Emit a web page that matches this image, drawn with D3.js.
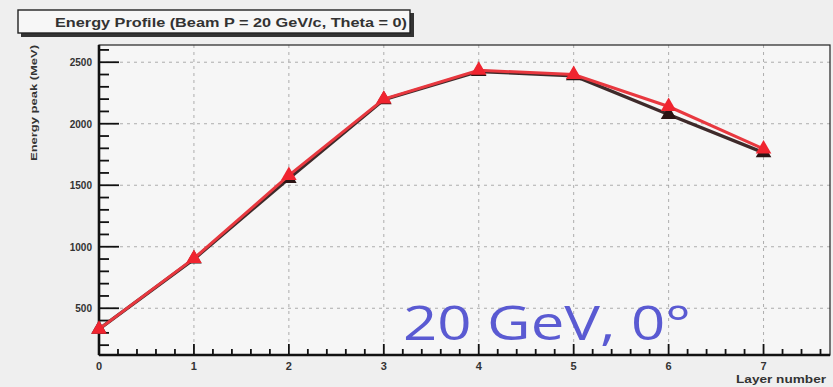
<!DOCTYPE html>
<html>
<head>
<meta charset="utf-8">
<script src="https://cdn.jsdelivr.net/npm/d3@7"></script>
<style>
  html, body { margin: 0; padding: 0; background: #efefef; }
  svg { display: block; }
  text { font-family: "Liberation Sans", Arial, sans-serif; }
  text.note { font-family: "Open Sans", "Noto Sans", sans-serif; }
</style>
</head>
<body>
<svg id="chart" width="833" height="387"></svg>
<script>
// Layer-by-layer energy peak, 20 GeV/c beam at normal incidence
const layers = [0, 1, 2, 3, 4, 5, 6, 7];
const peakA = [330, 900, 1555, 2195, 2425, 2390, 2075, 1765];   // dark series
const peakB = [330, 905, 1580, 2200, 2435, 2400, 2140, 1795];   // red series
const xTicks = [0, 1, 2, 3, 4, 5, 6, 7];
const yTicks = [500, 1000, 1500, 2000, 2500];
const titleText = "Energy Profile (Beam P = 20 GeV/c, Theta = 0)";
const yLabel = "Energy peak (MeV)";
const xLabel = "Layer number";
const noteText = "20 GeV, 0°";

const svg = d3.select("#chart");
const plotL = 99, plotR = 830, plotT = 45, plotB = 355;

const x = d3.scaleLinear().domain([0, 7.7]).range([plotL, plotR]);
const y = d3.scaleLinear().domain([120, 2640]).range([plotB, plotT]);

// plot frame
svg.append("rect")
  .attr("x", plotL).attr("y", plotT)
  .attr("width", plotR - plotL).attr("height", plotB - plotT)
  .attr("fill", "#f6f6f6");

// dashed grid
const grid = svg.append("g").attr("stroke", "#9a9a9a").attr("stroke-width", 0.8)
  .attr("stroke-dasharray", "3,4");
grid.selectAll("line.gx").data(xTicks.slice(1)).join("line")
  .attr("x1", d => x(d)).attr("x2", d => x(d))
  .attr("y1", plotT).attr("y2", plotB);
grid.selectAll("line.gy").data(yTicks).join("line")
  .attr("x1", plotL).attr("x2", plotR)
  .attr("y1", d => y(d)).attr("y2", d => y(d));

// axes with inward ticks
const xMinor = d3.range(0, 7.7, 0.2);
const yMinor = d3.range(200, 2640, 100);
const axes = svg.append("g").attr("stroke", "#111");
axes.selectAll("line.xmin").data(xMinor).join("line")
  .attr("x1", d => x(d)).attr("x2", d => x(d))
  .attr("y1", plotB).attr("y2", d => plotB - (Math.abs(d - Math.round(d)) < 1e-6 ? 11 : 6))
  .attr("stroke-width", 1.8);
axes.selectAll("line.ymin").data(yMinor).join("line")
  .attr("y1", d => y(d)).attr("y2", d => y(d))
  .attr("x1", plotL).attr("x2", d => plotL + (d % 500 === 0 ? 20 : 10))
  .attr("stroke-width", 1.8);

svg.append("rect")
  .attr("x", plotL).attr("y", plotT)
  .attr("width", plotR - plotL).attr("height", plotB - plotT)
  .attr("fill", "none").attr("stroke", "#222").attr("stroke-width", 1.2);
svg.append("line").attr("x1", plotL).attr("x2", plotR).attr("y1", plotB).attr("y2", plotB)
  .attr("stroke", "#111").attr("stroke-width", 2.6);
svg.append("line").attr("x1", plotL).attr("x2", plotL).attr("y1", plotT).attr("y2", plotB)
  .attr("stroke", "#111").attr("stroke-width", 2.6);

// tick labels
svg.append("g").selectAll("text").data(yTicks).join("text")
  .attr("x", plotL - 7).attr("y", d => y(d) + 4)
  .attr("text-anchor", "end").attr("font-size", 10).attr("font-weight", "bold")
  .attr("fill", "#333").text(d => d);
svg.append("g").selectAll("text").data(xTicks).join("text")
  .attr("x", d => x(d)).attr("y", 370)
  .attr("text-anchor", "middle").attr("font-size", 11).attr("font-weight", "bold")
  .attr("fill", "#333").text(d => d);

// axis titles
svg.append("text").attr("transform", `translate(37, ${plotT}) rotate(-90)`)
  .attr("text-anchor", "end").attr("font-size", 9).attr("font-weight", "bold")
  .attr("textLength", 116).attr("lengthAdjust", "spacingAndGlyphs")
  .attr("fill", "#333").text(yLabel);
svg.append("text").attr("x", 736).attr("y", 383)
  .attr("font-size", 10).attr("font-weight", "bold")
  .attr("textLength", 90).attr("lengthAdjust", "spacingAndGlyphs")
  .attr("fill", "#333").text(xLabel);

// title box with shadow
svg.append("rect").attr("x", 21).attr("y", 13).attr("width", 393).attr("height", 24).attr("fill", "#333");
svg.append("rect").attr("x", 18).attr("y", 10).attr("width", 392).attr("height", 23)
  .attr("fill", "#f7f7f7").attr("stroke", "#222").attr("stroke-width", 1.4);
svg.append("text").attr("x", 55).attr("y", 27)
  .attr("font-size", 12).attr("font-weight", "bold")
  .attr("textLength", 352).attr("lengthAdjust", "spacingAndGlyphs")
  .attr("fill", "#333").text(titleText);

// series lines
const line = d3.line().x((d, i) => x(layers[i])).y(d => y(d));
const tri = d3.symbol().type(d3.symbolTriangle).size(105);
svg.append("path").datum(peakA).attr("d", line)
  .attr("fill", "none").attr("stroke", "#2a1414").attr("stroke-width", 3.4).attr("opacity", 0.9);
svg.append("g").selectAll("path").data(peakA).join("path")
  .attr("transform", (d, i) => `translate(${x(layers[i])},${y(d)})`)
  .attr("d", tri).attr("fill", "#2a1414");
svg.append("path").datum(peakB).attr("d", line)
  .attr("fill", "none").attr("stroke", "#e8383f").attr("stroke-width", 3);
svg.append("g").selectAll("path").data(peakB).join("path")
  .attr("transform", (d, i) => `translate(${x(layers[i])},${y(d)})`)
  .attr("d", tri).attr("fill", "#f0242f");

// annotation
svg.append("text").attr("class", "note").attr("x", 403).attr("y", 340)
  .attr("font-size", 48).attr("fill", "#5a5ad2")
  .style("font-weight", 400)
  .attr("textLength", 288).attr("lengthAdjust", "spacingAndGlyphs")
  .text(noteText);
</script>
</body>
</html>
